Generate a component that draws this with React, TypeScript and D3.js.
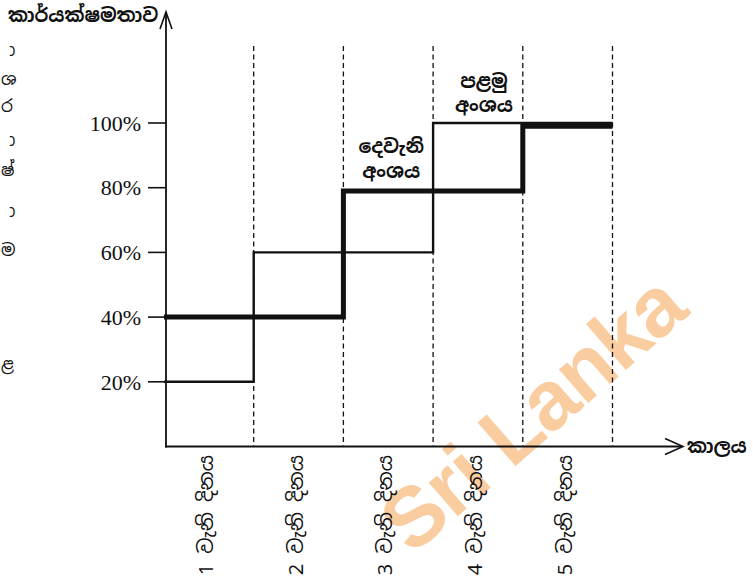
import React from 'react';
import * as d3 from 'd3';

// ---- data ----
const days = ['1 වැනි දිනය', '2 වැනි දිනය', '3 වැනි දිනය', '4 වැනි දිනය', '5 වැනි දිනය'];
const firstSection = [20, 60, 60, 100, 100]; // පළමු අංශය (thin line)
const secondSection = [40, 40, 79, 79, 99]; // දෙවැනි අංශය (thick line)
const yTicks = [20, 40, 60, 80, 100];
const yTitle = 'කාර්යක්ෂමතාව';
const xTitle = 'කාලය';
const firstLabel = ['පළමු', 'අංශය'];
const secondLabel = ['දෙවැනි', 'අංශය'];
const marginGlyphs = ['\u00A0ා', 'ශ', 'ර', '\u00A0ා', 'ෂ්', '\u00A0ා', 'ම', 'ළ'];
const watermark = 'Sri Lanka';

const W = 753;
const H = 581;
const SIN = "'Noto Sans Sinhala', 'Noto Serif Sinhala', 'Iskoola Pota', 'LKLUG', sans-serif";
const SERIF = "'Liberation Serif', 'DejaVu Serif', serif";

export default function App() {
  const x = d3.scaleLinear().domain([0, days.length]).range([164, 612.5]);
  const y = d3.scaleLinear().domain([0, 100]).range([446.5, 123]);
  const axisX = 166;
  const axisY = 446.5;

  const line = d3
    .line<[number, number]>()
    .x((d) => x(d[0]))
    .y((d) => y(d[1]))
    .curve(d3.curveStepAfter);

  const pts = (vals: number[]): [number, number][] => [
    ...vals.map((v, i) => [i, v] as [number, number]),
    [vals.length, vals[vals.length - 1]],
  ];

  const glyphY = [50, 79, 106, 140, 170, 211, 250, 364];

  return (
    <svg
      width={W}
      height={H}
      style={{ position: 'absolute', left: 0, top: 0, display: 'block', background: '#fff' }}
    >
      {/* watermark */}
      <g transform="translate(412,556) rotate(-41)">
        <text
          x={0}
          y={0}
          fill="#f9cda0"
          fontFamily="'Liberation Sans', Arial, sans-serif"
          fontWeight="bold"
          fontSize={84}
          letterSpacing={-1}
        >
          {watermark}
        </text>
      </g>

      {/* margin glyphs (cropped text at left edge) */}
      {marginGlyphs.map((g, i) => (
        <text key={i} x={1} y={glyphY[i]} dy="0.35em" fontFamily={SIN} fontSize={17} fill="#111">
          {g}
        </text>
      ))}

      {/* dashed day separators */}
      {d3.range(1, days.length + 1).map((i) => (
        <line
          key={i}
          x1={x(i)}
          x2={x(i)}
          y1={46}
          y2={axisY}
          stroke="#111"
          strokeWidth={1.3}
          strokeDasharray="5,3.5"
        />
      ))}

      {/* axes */}
      <line x1={axisX} x2={axisX} y1={axisY + 1} y2={13} stroke="#111" strokeWidth={1.8} />
      <polyline
        points={`${axisX - 6},29 ${axisX},12 ${axisX + 6},29`}
        fill="none"
        stroke="#111"
        strokeWidth={1.6}
      />
      <line x1={axisX - 1} x2={682} y1={axisY} y2={axisY} stroke="#111" strokeWidth={1.8} />
      <polyline
        points={`665,${axisY - 8} 683,${axisY} 665,${axisY + 8}`}
        fill="none"
        stroke="#111"
        strokeWidth={1.6}
      />

      {/* y ticks */}
      {yTicks.map((t) => (
        <g key={t}>
          <line x1={148} x2={axisX} y1={y(t)} y2={y(t)} stroke="#111" strokeWidth={1.6} />
          <text
            x={141}
            y={y(t)}
            dy="0.35em"
            textAnchor="end"
            fontFamily={SERIF}
            fontSize={22}
            fill="#111"
          >
            {t}%
          </text>
        </g>
      ))}

      {/* x labels */}
      {days.map((d, i) => (
        <text
          key={d}
          transform={`translate(${(x(i) + x(i + 1)) / 2 - 3},455) rotate(-90)`}
          textAnchor="end"
          dy="0.35em"
          fontFamily={SIN}
          fontSize={20}
          fill="#111"
        >
          {d}
        </text>
      ))}

      {/* series */}
      <path d={line(pts(firstSection)) || ''} fill="none" stroke="#111" strokeWidth={2.4} />
      <path d={line(pts(secondSection)) || ''} fill="none" stroke="#111" strokeWidth={5} />

      {/* titles */}
      <text x={8} y={22} fontFamily={SIN} fontWeight="bold" fontSize={19} fill="#111">
        {yTitle}
      </text>
      <text x={687} y={axisY} dy="0.35em" fontFamily={SIN} fontWeight="bold" fontSize={19} fill="#111">
        {xTitle}
      </text>

      {/* section labels */}
      {firstLabel.map((s, i) => (
        <text
          key={'f' + i}
          x={(x(3) + x(4)) / 2 + 6}
          y={88 + i * 24}
          textAnchor="middle"
          fontFamily={SIN}
          fontWeight="bold"
          fontSize={19}
          fill="#111"
        >
          {s}
        </text>
      ))}
      {secondLabel.map((s, i) => (
        <text
          key={'s' + i}
          x={(x(2) + x(3)) / 2 + 3}
          y={153 + i * 25}
          textAnchor="middle"
          fontFamily={SIN}
          fontWeight="bold"
          fontSize={19}
          fill="#111"
        >
          {s}
        </text>
      ))}
    </svg>
  );
}
